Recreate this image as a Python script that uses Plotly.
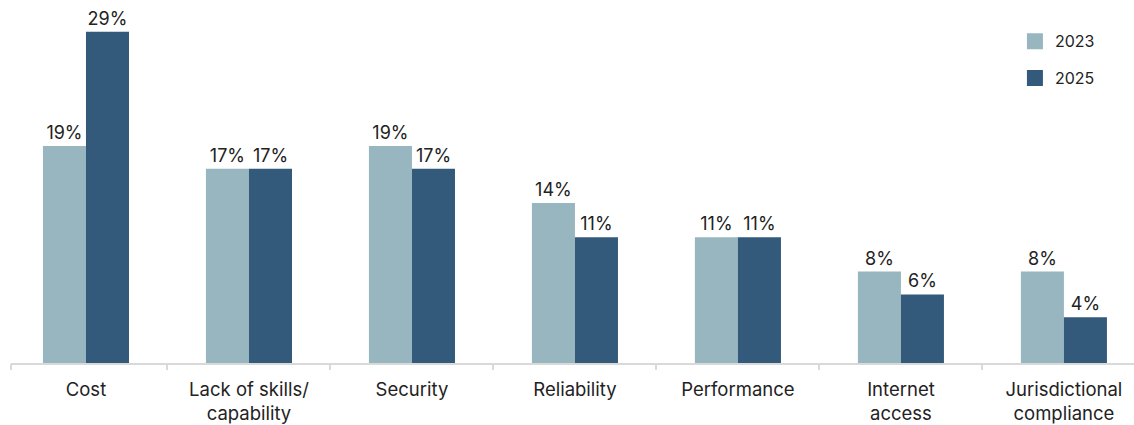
import plotly.graph_objects as go

# Barriers to adoption, share of respondents by survey year
categories = ["Cost", "Lack of skills/<br>capability", "Security", "Reliability",
              "Performance", "Internet<br>access", "Jurisdictional<br>compliance"]
values_2023 = [19, 17, 19, 14, 11, 8, 8]
values_2025 = [29, 17, 17, 11, 11, 6, 4]
series_names = ["2023", "2025"]

color_2023 = "#97B6C0"
color_2025 = "#335A7A"
text_color = "#222222"
font_family = "Inter, 'Open Sans', sans-serif"

n = len(categories)
x_idx = list(range(n))
x_range = [-0.46, n - 0.57]

fig = go.Figure()

for name, vals, col in [(series_names[0], values_2023, color_2023),
                        (series_names[1], values_2025, color_2025)]:
    fig.add_trace(go.Bar(
        x=x_idx, y=vals, name=name,
        marker=dict(color=col, line=dict(width=0)),
        text=[f"{v}%" for v in vals],
        textposition="outside",
        textfont=dict(size=18, color=text_color, family=font_family),
        cliponaxis=False,
        showlegend=False,
    ))

# Legend entries drawn as square swatches
for i, (name, col) in enumerate([(series_names[0], color_2023), (series_names[1], color_2025)]):
    fig.add_trace(go.Scatter(
        x=[None], y=[None], mode="markers", name=name,
        marker=dict(symbol="square", size=20, color=col),
        legendgroup=f"g{i}", showlegend=True,
    ))

# Boundary ticks between categories on an overlaid axis
boundary_ticks = [x_range[0]] + [i + 0.5 for i in range(n - 1)]

fig.update_layout(
    width=1134, height=425,
    margin=dict(l=11, r=0, t=10, b=62, autoexpand=False),
    paper_bgcolor="white", plot_bgcolor="white",
    barmode="group", bargap=0.472, bargroupgap=0,
    font=dict(family=font_family, color=text_color),
    xaxis=dict(
        range=x_range,
        tickvals=x_idx, ticktext=categories,
        tickfont=dict(size=18.5, color=text_color, family=font_family),
        showline=True, linecolor="#D9D9D9", linewidth=1.5,
        ticks="", showgrid=False, zeroline=False,
        ticklabelstandoff=9,
    ),
    xaxis2=dict(
        overlaying="x", side="bottom", anchor="y",
        range=x_range,
        tickvals=boundary_ticks, ticks="outside", ticklen=6,
        tickcolor="#D9D9D9", tickwidth=1.5,
        showticklabels=False, showgrid=False, zeroline=False, showline=False,
    ),
    yaxis=dict(range=[0, 30.9], visible=False),
    legend=dict(
        xref="container", yref="container",
        x=0.895, y=0.943, xanchor="left", yanchor="top",
        font=dict(size=16, color=text_color, family=font_family),
        tracegroupgap=13, itemsizing="trace",
        bgcolor="rgba(0,0,0,0)",
    ),
)

# Dummy trace to activate the boundary-tick axis
fig.add_trace(go.Scatter(x=[None], y=[None], xaxis="x2", showlegend=False, hoverinfo="skip"))

fig.write_html("out.html")
